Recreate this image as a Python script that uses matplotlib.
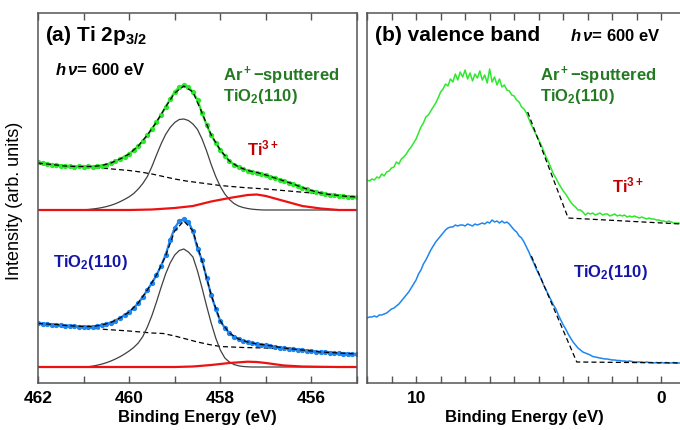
import numpy as np
import matplotlib
matplotlib.use("Agg")
import matplotlib.pyplot as plt
from matplotlib.ticker import MultipleLocator, FixedLocator

plt.rcParams["font.family"] = ["Liberation Sans", "DejaVu Sans"]
plt.rcParams["mathtext.fontset"] = "custom"
plt.rcParams["mathtext.it"] = "Liberation Sans:italic:bold"
plt.rcParams["mathtext.rm"] = "Liberation Sans:bold"

# ---- Ti 2p3/2 core level, 462 -> 455 eV in 0.1 eV steps ----
ti_be = np.linspace(462.0, 455.0, 71)
ti_sputtered = [221, 220, 219.5, 218.5, 218, 217.5, 217, 217, 216.5, 217,
                216.5, 217, 216.5, 217, 217.5, 218.5, 220, 222, 224, 226.5,
                229, 233, 237, 242, 248, 254, 261, 268, 276, 284,
                291, 296, 298, 296, 291, 283, 270, 258, 248, 240,
                233, 227, 222, 218.5, 216, 214, 212.5, 211.5, 210.5, 209,
                208, 206.5, 205, 203.5, 202, 200.5, 199, 197, 195.5, 194,
                192.5, 191, 190, 189, 188.5, 188, 187.5, 187, 186.5, 186.5, 186]
ti_clean = [60, 59.5, 59, 58.5, 58.5, 58, 57.5, 57.5, 57, 56.5,
            56.5, 56, 56.5, 57, 58, 59, 60.5, 62.5, 65, 68,
            71, 75, 80, 86, 93, 100, 108, 117, 128, 143,
            155, 162, 164, 161, 152, 134, 123, 105, 88, 74,
            62, 55, 50, 46, 44, 42.5, 41, 40, 39, 38.5,
            38, 37, 36.5, 35.5, 35, 34.5, 34, 33.5, 33, 32.5,
            32, 31.5, 31, 31, 30.5, 30, 30, 29.5, 29.5, 29, 29]

# fit envelopes, 0.2 eV steps
env_be = np.linspace(462.0, 455.0, 36)
env_sputtered = [220, 219, 218, 217, 216.5, 216.5, 216.5, 217.5, 220, 224,
                 229, 237, 248, 261, 276, 290, 297, 291, 270, 248,
                 233, 222, 216, 212.5, 210.5, 208, 205, 202, 199, 195.5,
                 192.5, 190, 188.5, 187.5, 186.5, 186]
env_clean = [59.5, 59, 58.5, 57.5, 57, 56.5, 56.5, 58, 60.5, 65,
             71, 80, 93, 108, 127, 152, 162, 152, 122, 88,
             62, 50, 44, 41, 39, 38, 36.5, 35, 34, 33,
             32, 31, 30.5, 30, 29.5, 29]

# Shirley backgrounds
bg_be = [462.0, 461.5, 461.0, 460.5, 460.0, 459.75, 459.5, 459.25, 459.0,
         458.75, 458.5, 458.25, 458.0, 457.5, 457.0, 456.5, 456.0, 455.5, 455.0]
bg_sputtered = [219, 217, 216, 214.5, 212.5, 211, 209, 206.5, 204,
                202, 200.5, 199, 197.5, 195.5, 194, 192, 190, 188, 186]
bg_clean = [59, 57, 55.5, 53.5, 52, 51, 50, 49.5, 47,
            44, 41, 38.5, 36.5, 35.5, 35, 33.5, 32, 30.5, 29]

# Ti4+ components: ends plus 461.2 -> 457.0 in 0.1 eV steps
ti4_be = np.r_[462.0, np.linspace(461.2, 457.0, 43), 455.0]
ti4_sputtered = [173,
                 173, 173.1, 173.2, 173.5, 174, 174.6, 175.4, 176.4, 177.7, 179.3,
                 181.3, 183.6, 186.2, 189.5, 194, 199.5, 206.5, 216.5, 228, 239,
                 248.5, 255.5, 260.5, 263.5, 264, 262.5, 259, 253.5, 244, 232,
                 218.5, 206.5, 196.5, 189, 183.5, 179.5, 177, 175.5, 174.5, 173.8,
                 173.4, 173.1, 173,
                 173]
ti4_clean = [16,
             16, 16, 16, 16.3, 16.9, 17.8, 18.9, 20.3, 22, 24,
             26.3, 29, 32, 35.5, 40, 46.5, 56, 67.5, 81, 95.5,
             109, 120, 128, 132.5, 134, 131, 126, 112, 95, 77,
             60, 45, 33, 25, 21, 18.5, 17.2, 16.5, 16.2, 16,
             16, 16, 16,
             16]

# Ti3+ components
ti3_be = [462.0, 460.0, 459.5, 459.0, 458.6, 458.2, 457.8, 457.4, 457.2,
          457.0, 456.6, 456.2, 455.8, 455.4, 455.0]
ti3_sputtered = [173, 173, 173.5, 175, 177, 181.5, 185, 188, 188.5,
                 187, 182, 177, 174.5, 173, 173]
ti3_clean = [16, 16, 16, 16, 16.5, 18, 20, 21.3, 21,
             20, 17.5, 16.5, 16.2, 16, 16]

# ---- valence band, 12 -> -0.8 eV in 0.1 eV steps ----
vb_be = np.linspace(12.0, -0.8, 129)
vb_sputtered = [203, 202, 204, 203, 206, 205, 209, 207, 211, 212,
                215, 216, 221, 219, 224, 226, 229, 233, 236, 240,
                244, 250, 256, 260, 266, 268, 272, 276, 280, 285,
                291, 294, 299, 297, 304, 301, 309, 303, 311, 306,
                313, 304, 310, 302, 309, 305, 312, 303, 308, 300,
                314, 301, 306, 298, 304, 296, 298, 293, 292, 288,
                287, 283, 281, 276, 274, 270, 264, 258, 253, 248,
                243, 238, 232, 226, 221, 215, 209, 205, 200, 196,
                192, 189, 185, 181, 178, 176, 173, 173, 171, 168,
                170, 169, 170, 168, 169, 170, 168, 169, 169, 167,
                168, 169, 167, 168, 167, 168, 166, 167, 166, 167,
                166, 165, 166, 165, 164, 165, 164, 164, 163, 163,
                162, 162, 161, 162, 161, 160, 160, 160, 159]
vb_clean = [65, 66, 66, 67, 66, 68, 68, 69, 70, 72,
            74, 75, 77, 79, 82, 85, 88, 91, 95, 99,
            103, 109, 113, 119, 123, 128, 133, 137, 141, 144,
            147, 150, 153, 155, 156, 156, 158, 157, 158, 158,
            157, 159, 158, 157, 159, 158, 159, 160, 159, 161,
            160, 163, 161, 162, 160, 162, 160, 161, 159, 156,
            153, 151, 147, 145, 141, 136, 131, 125, 120, 114,
            109, 104, 98, 93, 88, 83, 78, 74, 68, 63,
            58, 54, 49, 45, 41, 38, 35, 33, 31, 30,
            29, 28, 26.5, 26, 25.5, 25, 24.5, 24, 24, 23.5,
            23, 23, 22.5, 22.5, 22, 22, 21.5, 22, 21.5, 21,
            21, 21, 21, 20.5, 21, 20.5, 20.5, 20, 20.5, 20,
            20.5, 20, 20.5, 20, 20, 20.5, 20, 20, 20]

# linear edge extrapolations
edge_sputtered_be = [5.45, 3.8, -0.8]
edge_sputtered = [271, 165, 159]
edge_clean_be = [5.3, 3.45, -0.8]
edge_clean = [127, 21, 20]

green = "#2ee82e"
green_txt = "#237a23"
blue = "#1f86f0"
blue_txt = "#1515a8"
red = "#ee1111"
red_txt = "#c00000"
frame = "#555555"

fig = plt.figure(figsize=(6.8, 4.3), dpi=100)
ax1 = fig.add_axes([38 / 680, 47 / 430, 319 / 680, 370 / 430])
ax2 = fig.add_axes([367 / 680, 47 / 430, 314 / 680, 370 / 430])

dash = dict(color="black", lw=0.9, ls=(0, (4, 2.5)))

# (a) Ti 2p
for bg, ti4, ti3, data, env, col in [
        (bg_sputtered, ti4_sputtered, ti3_sputtered, ti_sputtered, env_sputtered, green),
        (bg_clean, ti4_clean, ti3_clean, ti_clean, env_clean, blue)]:
    ax1.plot(bg_be, bg, **dash)
    ax1.plot(ti4_be, ti4, color="#404040", lw=0.9)
    ax1.plot(ti3_be, ti3, color=red, lw=1.6)
    ax1.plot(ti_be, data, color=col, lw=1.6, marker="o", ms=2.8, mec=col, mfc=col)
    ax1.plot(env_be, env, **dash)

ax1.set_xlim(462, 455)

# (b) valence band
ax2.plot(vb_be, vb_sputtered, color=green, lw=1.1)
ax2.plot(vb_be, vb_clean, color=blue, lw=1.1)
ax2.plot(edge_sputtered_be, edge_sputtered, **dash)
ax2.plot(edge_clean_be, edge_clean, **dash)
ax2.set_xlim(12.0, -0.8)

ax1.xaxis.set_major_locator(FixedLocator([462, 460, 458, 456]))
ax2.xaxis.set_major_locator(FixedLocator([10, 0]))
ax2.spines["right"].set_visible(False)

for ax in (ax1, ax2):
    ax.set_ylim(0, 370)
    ax.set_yticks([])
    for s in ax.spines.values():
        s.set_color(frame)
        s.set_linewidth(1.1)
    ax.xaxis.set_minor_locator(MultipleLocator(1))
    ax.tick_params(axis="x", which="both", direction="in", top=True,
                   length=5, width=1, color=frame, pad=5.5,
                   labelsize=12.5)
    ax.set_xlabel("Binding Energy (eV)", fontsize=12, fontweight="bold")
    ax.xaxis.set_label_coords(0.5, -0.072)
    for lab in ax.get_xticklabels():
        lab.set_fontweight("bold")

fig.text(15 / 680, 1 - 201 / 430, "Intensity (arb. units)", rotation=90,
         ha="center", va="center", fontsize=13)

label_kw = dict(fontsize=12, fontweight="bold", va="center")
sputtered_label = "Ar$\\mathregular{^+}$\u2212sputtered\nTiO$\\mathregular{_2}$(110)"

# annotations, panel a
ax1.text(0.022, 0.938, r"(a) Ti 2p$\mathregular{_{3/2}}$", transform=ax1.transAxes,
         fontsize=15, fontweight="bold", va="center")
ax1.text(0.053, 0.846, r"$h\,\nu$= 600 eV", transform=ax1.transAxes, **label_kw)
ax1.text(0.58, 0.805, sputtered_label, transform=ax1.transAxes,
         color=green_txt, linespacing=1.0, **label_kw)
ax1.text(0.655, 0.635, "Ti$\\mathregular{^{3+}}$", transform=ax1.transAxes,
         color=red_txt, **label_kw)
ax1.text(0.047, 0.327, "TiO$\\mathregular{_2}$(110)", transform=ax1.transAxes,
         color=blue_txt, **label_kw)

# annotations, panel b
ax2.text(0.0255, 0.938, "(b) valence band", transform=ax2.transAxes,
         fontsize=15, fontweight="bold", va="center")
ax2.text(0.6465, 0.938, r"$h\,\nu$= 600 eV", transform=ax2.transAxes, **label_kw)
ax2.text(0.551, 0.805, sputtered_label, transform=ax2.transAxes,
         color=green_txt, linespacing=1.0, **label_kw)
ax2.text(0.78, 0.535, "Ti$\\mathregular{^{3+}}$", transform=ax2.transAxes,
         color=red_txt, **label_kw)
ax2.text(0.656, 0.30, "TiO$\\mathregular{_2}$(110)", transform=ax2.transAxes,
         color=blue_txt, **label_kw)

fig.savefig("out.png", dpi=100)
